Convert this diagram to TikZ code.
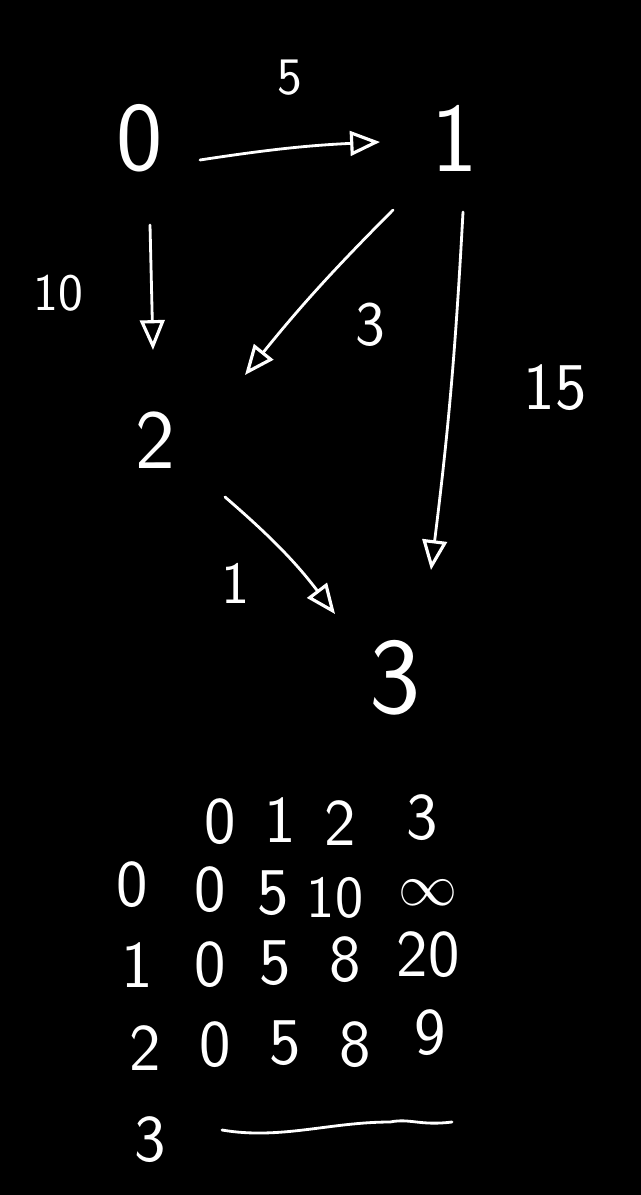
\documentclass[tikz,border=0pt]{standalone}
\usetikzlibrary{arrows.meta}
\newcommand{\fs}[1]{\fontsize{#1}{#1}\selectfont}
\begin{document}
\begin{tikzpicture}[x=0.02cm,y=-0.02cm,
  every node/.style={text=white,font=\sffamily,inner sep=0pt},
  cell/.style={font=\sffamily\fs{38}},
  arr/.style={draw=white,line width=1.6pt,line cap=round,-{Triangle[open,length=17pt,width=14pt,line width=1.8pt]}}]
\fill[black] (0,0) rectangle (641,1195);
\useasboundingbox (0,0) rectangle (641,1195);
% graph vertices
\node[font=\sffamily\fs{56}] (n0) at (140,138) {0};
\node[font=\sffamily\fs{56}] (n1) at (455,138) {1};
\node[font=\sffamily\fs{48}] (n2) at (155,440) {2};
\node[font=\sffamily\fs{62}] (n3) at (395,678) {3};
% edge labels
\node[font=\sffamily\fs{30}] (w01) at (290,78) {5};
\node[font=\sffamily\fs{30}] (w02) at (58,293) {10};
\node[font=\sffamily\fs{36}] (w12) at (370,325) {3};
\node[font=\sffamily\fs{38}] (w13) at (555,388) {15};
\node[font=\sffamily\fs{34}] (w23) at (236,583) {1};
% edges
\draw[arr] ([shift={(60,22)}]n0.center) to[bend left=3] ([shift={(-75,4)}]n1.center);
\draw[arr] ([shift={(10,87)}]n0.center) -- ([shift={(-2,-90)}]n2.center);
\draw[arr] ([shift={(-62,72)}]n1.center) to[bend right=3] ([shift={(90,-65)}]n2.center);
\draw[arr] ([shift={(8,74)}]n1.center) to[bend left=2] ([shift={(36,-108)}]n3.center);
\draw[arr] ([shift={(70,57)}]n2.center) to[bend left=6] ([shift={(-60,-64)}]n3.center);
% table header
\node[cell] (h0) at (220,822) {0};
\node[cell] (h1) at (280,820) {1};
\node[cell] (h2) at (340,823) {2};
\node[cell] (h3) at (422,818) {3};
% row labels
\node[cell] (r0) at (132,885) {0};
\node[cell] (r1) at (137,965) {1};
\node[cell] (r2) at (145,1048) {2};
\node[cell] (r3) at (150,1140) {3};
% row 0
\node[cell] (c00) at (210,890) {0};
\node[cell] (c01) at (273,893) {5};
\node[cell,font=\sffamily\fs{34}] (c02) at (335,898) {10};
\node[cell,font=\fs{38}] (c03) at (428,893) {\scalebox{1.35}{$\infty$}};
% row 1
\node[cell] (c10) at (210,965) {0};
\node[cell] (c11) at (275,963) {5};
\node[cell] (c12) at (345,960) {8};
\node[cell] (c13) at (428,955) {20};
% row 2
\node[cell] (c20) at (215,1045) {0};
\node[cell] (c21) at (285,1043) {5};
\node[cell] (c22) at (355,1045) {8};
\node[cell] (c23) at (430,1033) {9};
% row 3 dash
\coordinate (d0) at (222,1130);
\coordinate (d1) at (452,1122);
\draw[white,line width=1.6pt,line cap=round] (d0) .. controls (280,1140) and (330,1122) .. (390,1122) .. controls (410,1118) and (420,1126) .. (d1);
\end{tikzpicture}
\end{document}
